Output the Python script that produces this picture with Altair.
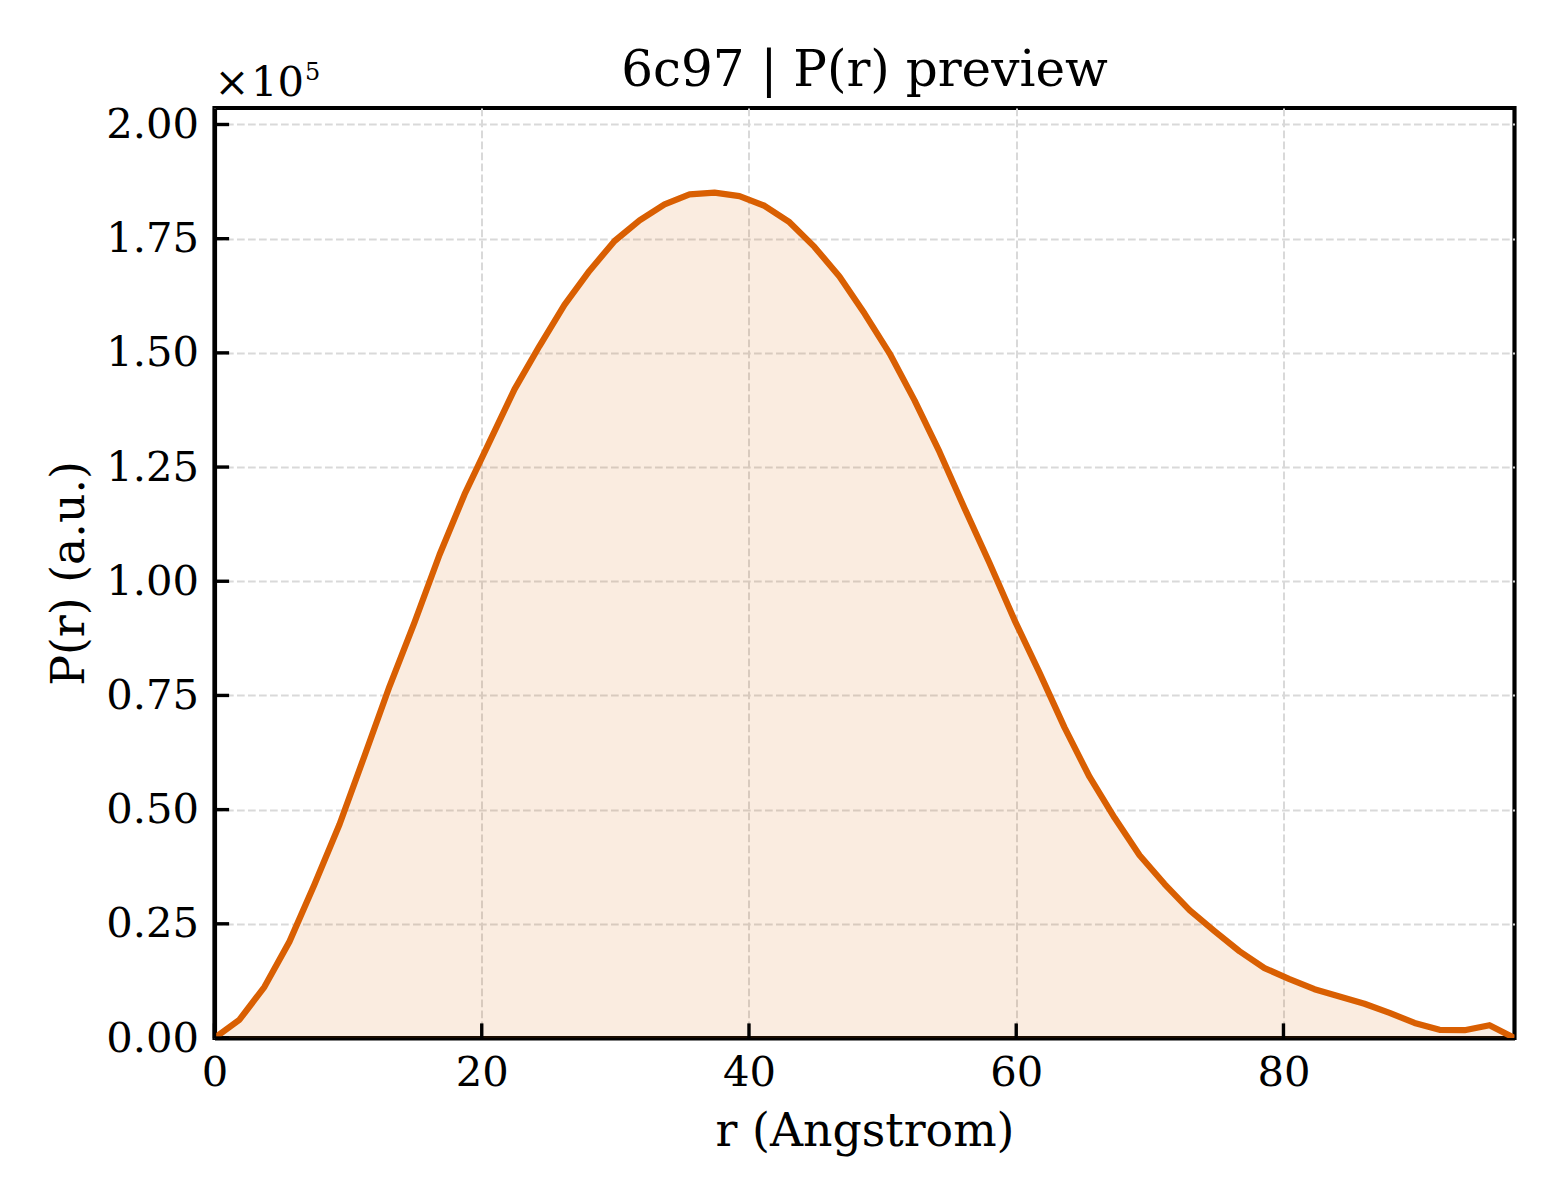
import altair as alt
import pandas as pd

# ---- data ----
r_values = [0.00, 1.87, 3.74, 5.61, 7.48, 9.36, 11.23, 13.10, 14.97, 16.84,
            18.71, 20.58, 22.45, 24.32, 26.19, 28.07, 29.94, 31.81, 33.68, 35.55,
            37.42, 39.29, 41.16, 43.03, 44.90, 46.77, 48.65, 50.52, 52.39, 54.26,
            56.13, 58.00, 59.87, 61.74, 63.61, 65.48, 67.36, 69.23, 71.10, 72.97,
            74.84, 76.71, 78.58, 80.45, 82.32, 84.19, 86.06, 87.94, 89.81, 91.68,
            93.55, 95.42, 97.29]
p_values = [0, 4000, 11200, 21100, 33600, 46800, 61800, 77000, 91000, 105800,
            119000, 130500, 142000, 151500, 160500, 168000, 174500, 179000, 182500, 184700,
            185100, 184300, 182200, 178600, 173200, 166700, 158600, 149900, 139600, 128300,
            116000, 104000, 91500, 80000, 68000, 57200, 48200, 40000, 33700, 28000,
            23400, 19000, 15300, 12900, 10700, 9100, 7500, 5500, 3300, 1800,
            1700, 2800, 0]
x_tick_values = [0, 20, 40, 60, 80]
y_tick_values = [0, 25000, 50000, 75000, 100000, 125000, 150000, 175000, 200000]
title_text = "6c97 | P(r) preview"
x_title = "r (Angstrom)"
y_title = "P(r) (a.u.)"
offset_times = "\u00d7"
offset_base = "10"
offset_exp = "5"

# ---- styling ----
W, H = 1300, 930
FONT = "DejaVu Serif"
ORANGE = "#d95f02"
TICK_LEN = 14.6
SPINE = 4.17
GRID = dict(grid=True, gridColor="#d9d9d9", gridDash=[7.7, 3.3], gridWidth=2)
DOMAIN = dict(domain=True, domainColor="black", domainWidth=SPINE)

df = pd.DataFrame({"r": r_values, "p": p_values})
xs = alt.Scale(domain=[0, max(r_values)], nice=False, zero=False)
ys = alt.Scale(domain=[0, 1.1 * max(p_values)], nice=False, zero=False)

x_axis = alt.Axis(values=x_tick_values, title=x_title, ticks=False,
                  labelFont=FONT, labelFontSize=41.7, labelColor="black",
                  labelPadding=14, labelFlush=False,
                  titleFont=FONT, titleFontSize=45.8, titleFontWeight="normal",
                  titleColor="black", titleX=W / 2, titleY=107,
                  titleBaseline="alphabetic", titleAlign="center", **GRID, **DOMAIN)
y_axis = alt.Axis(values=y_tick_values, title=y_title, ticks=False,
                  labelExpr="format(datum.value / 100000, '.2f')",
                  labelFont=FONT, labelFontSize=41.7, labelColor="black",
                  labelPadding=16, labelFlush=False,
                  titleFont=FONT, titleFontSize=45.8, titleFontWeight="normal",
                  titleColor="black", titleX=-131.5, titleY=H / 2, titleAngle=270,
                  titleBaseline="alphabetic", titleAlign="center", **GRID, **DOMAIN)

base = alt.Chart(df).encode(
    x=alt.X("r:Q", scale=xs, axis=x_axis),
    y=alt.Y("p:Q", scale=ys, axis=y_axis),
)
area = base.mark_area(color=ORANGE, opacity=0.12, clip=True)
line = base.mark_line(color=ORANGE, strokeWidth=6.25, strokeJoin="round", clip=True)

yticks = alt.Chart(pd.DataFrame({"p": y_tick_values})).mark_rule(
    color="black", strokeWidth=3.4
).encode(y=alt.Y("p:Q", scale=ys), x=alt.value(0), x2=alt.value(TICK_LEN))

xticks = alt.Chart(pd.DataFrame({"r": x_tick_values})).mark_rule(
    color="black", strokeWidth=3.4
).encode(x=alt.X("r:Q", scale=xs), y=alt.value(H), y2=alt.value(H - TICK_LEN))

title = alt.Chart(pd.DataFrame({"t": [title_text]})).mark_text(
    font=FONT, fontSize=50, color="black", align="center", baseline="alphabetic"
).encode(x=alt.value(W / 2), y=alt.value(-22), text="t:N")

off0 = alt.Chart(pd.DataFrame({"t": [offset_times]})).mark_text(
    font=FONT, fontSize=41.7, color="black", align="left", baseline="alphabetic"
).encode(x=alt.value(0), y=alt.value(-12), text="t:N")

off1 = alt.Chart(pd.DataFrame({"t": [offset_base]})).mark_text(
    font=FONT, fontSize=41.7, color="black", align="left", baseline="alphabetic"
).encode(x=alt.value(36.5), y=alt.value(-12), text="t:N")

off2 = alt.Chart(pd.DataFrame({"t": [offset_exp]})).mark_text(
    font=FONT, fontSize=24, color="black", align="left", baseline="alphabetic"
).encode(x=alt.value(90.5), y=alt.value(-28), text="t:N")

chart = alt.layer(area, line, yticks, xticks, title, off0, off1, off2).properties(
    width=W, height=H,
    autosize=alt.AutoSizeParams(type="none"),
    padding={"left": 206.5, "top": 100, "right": 37, "bottom": 154},
    background="white",
).configure_view(stroke="black", strokeWidth=SPINE)

chart.save("out.html", embed_options={"renderer": "svg", "actions": False})
